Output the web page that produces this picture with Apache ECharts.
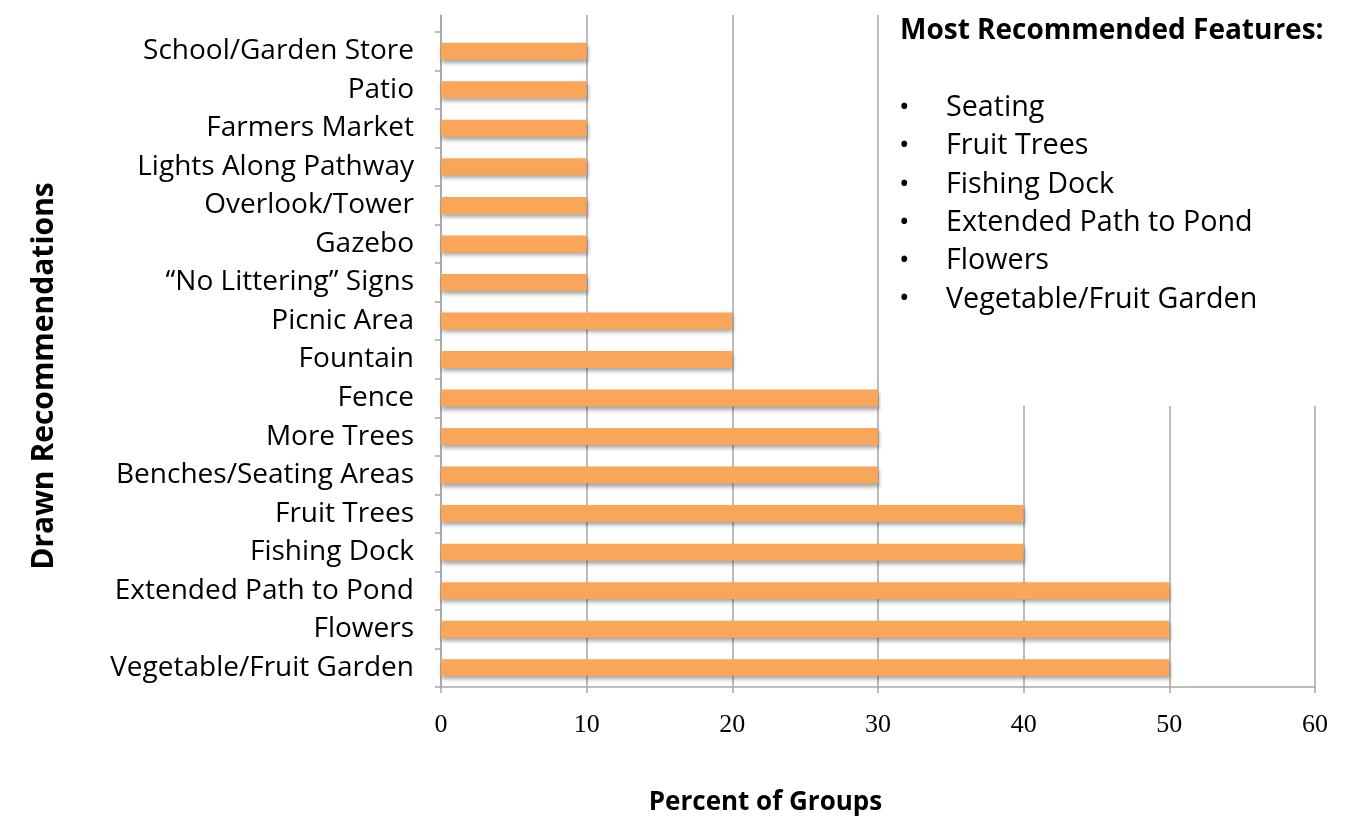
<!DOCTYPE html>
<html>
<head>
<meta charset="utf-8">
<script src="https://cdn.jsdelivr.net/npm/echarts@6/dist/echarts.min.js"></script>
<style>
html,body{margin:0;padding:0;background:#fff;}
#chart{width:1363px;height:816px;}
</style>
</head>
<body>
<div id="chart"></div>
<script>
const categories = [
  'School/Garden Store', 'Patio', 'Farmers Market', 'Lights Along Pathway',
  'Overlook/Tower', 'Gazebo', '\u201CNo Littering\u201D Signs', 'Picnic Area',
  'Fountain', 'Fence', 'More Trees', 'Benches/Seating Areas', 'Fruit Trees',
  'Fishing Dock', 'Extended Path to Pond', 'Flowers', 'Vegetable/Fruit Garden'
];
const values = [10, 10, 10, 10, 10, 10, 10, 20, 20, 30, 30, 30, 40, 40, 50, 50, 50];
const xMin = 0, xMax = 60, xStep = 10;
const xTitle = 'Percent of Groups';
const yTitle = 'Drawn Recommendations';
const boxTitle = 'Most Recommended Features:';
const boxItems = ['Seating', 'Fruit Trees', 'Fishing Dock', 'Extended Path to Pond', 'Flowers', 'Vegetable/Fruit Garden'];

const GRID = '#A6A6A6';
const SANS = '"Open Sans", "Noto Sans", sans-serif';
const chart = echarts.init(document.getElementById('chart'));

const boxEls = [
  { type: 'rect', x: 881, y: 0, shape: { width: 482, height: 406 }, style: { fill: '#fff' }, z: 100 },
  { type: 'text', x: 900, y: 31, z: 101,
    style: { text: boxTitle, font: 'bold 28px ' + SANS, fill: '#000', verticalAlign: 'middle' } }
];
boxItems.forEach(function (t, i) {
  const cy = 108 + i * 38.3;
  boxEls.push({ type: 'text', x: 899, y: cy, z: 101,
    style: { text: '\u2022', font: '28px ' + SANS, fill: '#000', verticalAlign: 'middle' } });
  boxEls.push({ type: 'text', x: 946, y: cy, z: 101,
    style: { text: t, font: '28.7px ' + SANS, fill: '#000', verticalAlign: 'middle' } });
});
boxEls.push({ type: 'text', rotation: Math.PI / 2, x: 44, y: 376, z: 101,
  style: { text: yTitle, font: 'bold 30px ' + SANS, fill: '#000', align: 'center', verticalAlign: 'middle' } });

chart.setOption({
  animation: false,
  backgroundColor: '#fff',
  grid: [
    { left: 441, right: 48, top: 32, bottom: 129, containLabel: false, outerBoundsMode: 'none' },
    { left: 441, right: 48, top: 15, height: 17, containLabel: false, outerBoundsMode: 'none' }
  ],
  xAxis: [
    {
      type: 'value', gridIndex: 0, min: xMin, max: xMax, interval: xStep,
      axisLine: { show: true, lineStyle: { color: GRID, width: 1.5 } },
      axisTick: { show: true, length: 6, lineStyle: { color: GRID, width: 1.5 } },
      splitLine: { show: true, lineStyle: { color: GRID, width: 1.5 } },
      axisLabel: { color: '#000', fontFamily: '"Liberation Serif", "DejaVu Serif", serif', fontSize: 26, margin: 25 },
      name: xTitle, nameLocation: 'middle', nameGap: 103,
      nameTextStyle: { fontFamily: SANS, fontWeight: 'bold', fontSize: 26, color: '#000', padding: [0, 0, 0, -225] }
    },
    {
      type: 'value', gridIndex: 1, min: xMin, max: xMax, interval: xStep,
      axisLine: { show: false }, axisTick: { show: false }, axisLabel: { show: false },
      splitLine: { show: true, lineStyle: { color: GRID, width: 1.5 } }
    }
  ],
  yAxis: [
    {
      type: 'category', gridIndex: 0, data: categories, inverse: true,
      axisLine: { show: true, lineStyle: { color: GRID, width: 1.5 } },
      axisTick: { show: true, length: 6, lineStyle: { color: GRID, width: 1.5 } },
      axisLabel: { color: '#000', fontFamily: SANS, fontSize: 28, margin: 27 },
      splitLine: { show: false }
    },
    {
      type: 'value', gridIndex: 1,
      axisLine: { show: true, lineStyle: { color: GRID, width: 1.5 } },
      axisTick: { show: false }, axisLabel: { show: false }, splitLine: { show: false }
    }
  ],
  series: [{
    type: 'bar', xAxisIndex: 0, yAxisIndex: 0, data: values, barWidth: 17,
    itemStyle: {
      color: '#F9A65A',
      shadowColor: 'rgba(0,0,0,0.35)', shadowBlur: 4, shadowOffsetX: 1, shadowOffsetY: 3
    }
  }],
  graphic: { elements: boxEls }
});
</script>
</body>
</html>
